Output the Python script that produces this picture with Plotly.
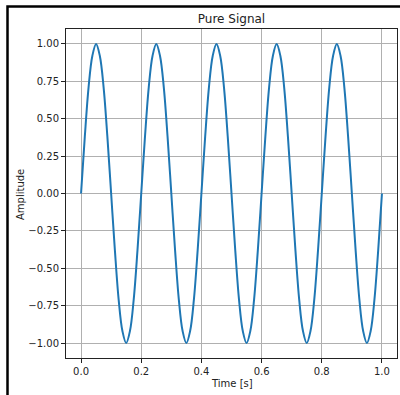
import plotly.graph_objects as go

# Sample times [s] and amplitudes
time_s = [
    0.0000, 0.0125, 0.0250, 0.0375, 0.0500, 0.0625, 0.0750, 0.0875,
    0.1000, 0.1125, 0.1250, 0.1375, 0.1500, 0.1625, 0.1750, 0.1875,
    0.2000, 0.2125, 0.2250, 0.2375, 0.2500, 0.2625, 0.2750, 0.2875,
    0.3000, 0.3125, 0.3250, 0.3375, 0.3500, 0.3625, 0.3750, 0.3875,
    0.4000, 0.4125, 0.4250, 0.4375, 0.4500, 0.4625, 0.4750, 0.4875,
    0.5000, 0.5125, 0.5250, 0.5375, 0.5500, 0.5625, 0.5750, 0.5875,
    0.6000, 0.6125, 0.6250, 0.6375, 0.6500, 0.6625, 0.6750, 0.6875,
    0.7000, 0.7125, 0.7250, 0.7375, 0.7500, 0.7625, 0.7750, 0.7875,
    0.8000, 0.8125, 0.8250, 0.8375, 0.8500, 0.8625, 0.8750, 0.8875,
    0.9000, 0.9125, 0.9250, 0.9375, 0.9500, 0.9625, 0.9750, 0.9875,
    1.0000,
]
amplitude = [
    0.00, 0.38, 0.71, 0.92, 1.00, 0.92, 0.71, 0.38,
    0.00, -0.38, -0.71, -0.92, -1.00, -0.92, -0.71, -0.38,
    0.00, 0.38, 0.71, 0.92, 1.00, 0.92, 0.71, 0.38,
    0.00, -0.38, -0.71, -0.92, -1.00, -0.92, -0.71, -0.38,
    0.00, 0.38, 0.71, 0.92, 1.00, 0.92, 0.71, 0.38,
    0.00, -0.38, -0.71, -0.92, -1.00, -0.92, -0.71, -0.38,
    0.00, 0.38, 0.71, 0.92, 1.00, 0.92, 0.71, 0.38,
    0.00, -0.38, -0.71, -0.92, -1.00, -0.92, -0.71, -0.38,
    0.00, 0.38, 0.71, 0.92, 1.00, 0.92, 0.71, 0.38,
    0.00, -0.38, -0.71, -0.92, -1.00, -0.92, -0.71, -0.38,
    0.00,
]

x_tickvals = [0.0, 0.2, 0.4, 0.6, 0.8, 1.0]
x_ticktext = ["0.0", "0.2", "0.4", "0.6", "0.8", "1.0"]
y_tickvals = [-1.0, -0.75, -0.5, -0.25, 0.0, 0.25, 0.5, 0.75, 1.0]
y_ticktext = ["\u22121.00", "\u22120.75", "\u22120.50", "\u22120.25", "0.00",
              "0.25", "0.50", "0.75", "1.00"]

FONT = "DejaVu Sans"
W, H = 400, 395
ML, MR, MT, MB = 66, 3, 29, 37
PW, PH = W - ML - MR, H - MT - MB

fig = go.Figure()
fig.add_trace(go.Scatter(
    x=time_s, y=amplitude, mode="lines",
    line=dict(color="#1f77b4", width=2, shape="spline", smoothing=1.0),
    hoverinfo="skip", showlegend=False,
))

axis_common = dict(
    showline=True, linecolor="#222222", linewidth=1, mirror=True,
    ticks="outside", ticklen=4, tickwidth=1, tickcolor="#222222",
    showgrid=True, gridcolor="#b0b0b0", gridwidth=1,
    zeroline=False, automargin=False,
    tickfont=dict(family=FONT, size=10, color="#222222"),
)

fig.update_layout(
    width=W, height=H,
    margin=dict(l=ML, r=MR, t=MT, b=MB, pad=0),
    paper_bgcolor="white", plot_bgcolor="white",
    font=dict(family=FONT, color="#222222"),
    title=dict(text="Pure Signal", x=(ML + PW / 2) / W, xanchor="center",
               y=1 - 19 / H, yanchor="middle", yref="container",
               font=dict(family=FONT, size=12, color="#222222")),
    xaxis=dict(range=[-0.05, 1.05], tickvals=x_tickvals, ticktext=x_ticktext,
               **axis_common),
    yaxis=dict(range=[-1.1, 1.1], tickvals=y_tickvals, ticktext=y_ticktext,
               **axis_common),
    annotations=[
        dict(text="Time [s]", xref="paper", yref="paper", x=0.5,
             y=-(383 - (MT + PH)) / PH, xanchor="center", yanchor="middle",
             showarrow=False, font=dict(family=FONT, size=10, color="#222222")),
        dict(text="Amplitude", xref="paper", yref="paper",
             x=-(ML - 20) / PW, y=0.5 - (195 - (MT + PH / 2)) / PH,
             xanchor="center", yanchor="middle", textangle=-90,
             showarrow=False, font=dict(family=FONT, size=10, color="#222222")),
    ],
    shapes=[
        dict(type="rect", xref="paper", yref="paper",
             x0=-(ML - 7.5) / PW, y0=-0.3, x1=1.3, y1=1 + (MT - 6.5) / PH,
             line=dict(color="black", width=2.5), fillcolor="rgba(0,0,0,0)",
             layer="above"),
    ],
)

fig.write_html(
    "out.html",
    config={"displayModeBar": False, "staticPlot": True},
    post_script="document.body.style.margin='0px';document.body.style.overflow='hidden';",
)
